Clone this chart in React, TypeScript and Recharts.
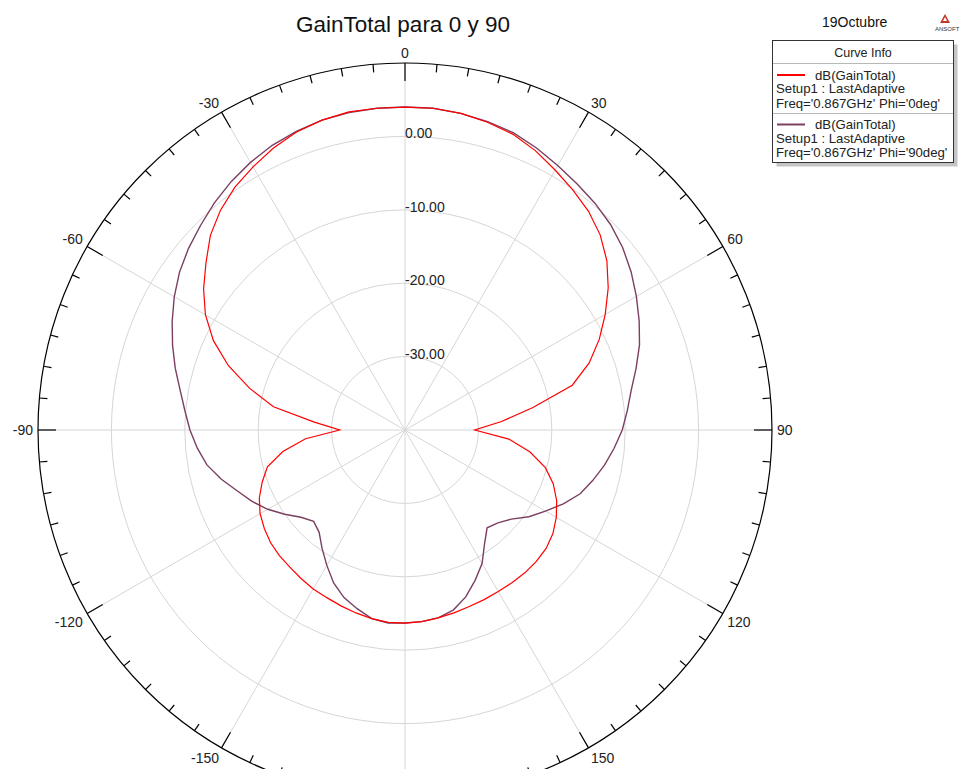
import { RadarChart, Radar, PolarGrid, PolarAngleAxis, PolarRadiusAxis } from "recharts"

// angle in degrees, clockwise from the top (0 = boresight)
const angles = [
  0, 5, 10, 15, 20, 25, 30, 35, 40, 45, 50, 55, 60, 65, 70, 75, 80, 85,
  90, 95, 100, 105, 110, 115, 120, 125, 130, 135, 140, 145, 150, 155, 160, 165, 170, 175,
  180, 185, 190, 195, 200, 205, 210, 215, 220, 225, 230, 235, 240, 245, 250, 255, 260, 265,
  270, 275, 280, 285, 290, 295, 300, 305, 310, 315, 320, 325, 330, 335, 340, 345, 350, 355,
]

// dB(GainTotal), Phi = 0deg
const gainPhi0 = [
  4.0, 4.0, 3.8, 3.4, 2.9, 2.0, 0.9, -0.1, -1.1, -2.4, -4.1, -6.2, -8.5, -10.8, -13.3, -16.4, -22.3, -26.8,
  -30.5, -25.8, -22.7, -20.2, -18.5, -17.2, -16.2, -15.4, -14.9, -14.7, -14.6, -14.6, -14.6, -14.5, -14.4, -14.2, -14.0, -13.8,
  -13.7, -13.7, -13.9, -14.2, -14.5, -14.8, -15.0, -15.3, -15.6, -15.8, -16.1, -16.6, -17.2, -18.1, -19.3, -20.6, -23.1, -26.4,
  -31.1, -27.6, -21.8, -18.1, -14.4, -11.2, -8.6, -6.5, -4.6, -2.5, -0.9, 0.4, 1.4, 2.4, 3.2, 3.7, 4.0, 4.0,
]

// dB(GainTotal), Phi = 90deg
const gainPhi90 = [
  4.0, 4.0, 3.8, 3.5, 3.1, 2.4, 1.6, 0.9, 0.3, -0.4, -1.3, -2.4, -3.6, -4.8, -6.0, -7.4, -8.7, -9.6,
  -10.4, -11.4, -12.4, -13.5, -14.6, -16.2, -17.9, -19.4, -21.1, -22.1, -22.6, -21.1, -19.0, -17.4, -15.8, -14.6, -14.0, -13.8,
  -13.7, -13.6, -13.9, -14.8, -15.7, -17.0, -18.7, -20.3, -21.8, -22.4, -21.5, -20.0, -18.4, -17.0, -15.7, -14.1, -12.6, -11.6,
  -10.7, -9.9, -8.9, -7.6, -6.3, -5.0, -3.7, -2.5, -1.5, -0.6, 0.4, 1.3, 2.1, 2.8, 3.3, 3.7, 3.9, 4.0,
]

const radiusDomain = [-40, 10]
const radiusTicks = [-30, -20, -10, 0]
const spokeAngles = [0, 30, 60, 90, 120, 150, 180, 210, 240, 270, 300, 330]

const CX = 405
const CY = 430
const R = 367
const FONT = "Arial, 'Liberation Sans', sans-serif"

const data = angles.map((a, i) => ({ angle: a, phi0: gainPhi0[i], phi90: gainPhi90[i] }))

const gridRadii = radiusTicks.map(
  (v) => ((v - radiusDomain[0]) / (radiusDomain[1] - radiusDomain[0])) * R
)

function AngleTick(props: any) {
  const { payload } = props
  const value = Number(payload.value)
  const rad = (payload.coordinate * Math.PI) / 180
  const cos = Math.cos(rad)
  const sin = Math.sin(rad)
  const major = value % 30 === 0
  const len = major ? 18 : 8
  const x1 = CX + R * cos
  const y1 = CY - R * sin
  const x2 = CX + (R - len) * cos
  const y2 = CY - (R - len) * sin
  let label = null
  // the 180 label falls below the visible area, so it is left out
  if (major && value !== 180) {
    const lx = CX + (R + 5) * cos
    const ly = CY - (R + 5) * sin
    const anchor = cos > 0.01 ? "start" : cos < -0.01 ? "end" : "middle"
    const dy = sin > 0.01 ? "0" : sin < -0.01 ? "0.8em" : "0.35em"
    label = (
      <text x={lx} y={ly} dy={dy} textAnchor={anchor} fontSize={14} fill="#222" fontFamily={FONT}>
        {value > 180 ? value - 360 : value}
      </text>
    )
  }
  return (
    <g>
      <line x1={x1} y1={y1} x2={x2} y2={y2} stroke="#000" strokeWidth={1.2} />
      {label}
    </g>
  )
}

function RadiusTick(props: any) {
  const { x, y, payload } = props
  return (
    <text x={x} y={y} dy="0.14em" textAnchor="start" fontSize={14} fill="#222" fontFamily={FONT}>
      {Number(payload.value).toFixed(2)}
    </text>
  )
}

export default function App() {
  return (
    <div style={{ position: "absolute", left: 0, top: 0, width: 960, height: 769, background: "#fff", overflow: "hidden" }}>
      <RadarChart
        width={960}
        height={769}
        data={data}
        cx={CX}
        cy={CY}
        outerRadius={R}
        startAngle={90}
        endAngle={-270}
        margin={{ top: 0, right: 0, bottom: 0, left: 0 }}
      >
        <PolarGrid
          gridType="circle"
          polarAngles={spokeAngles}
          polarRadius={gridRadii}
          stroke="#d6d6d6"
          strokeWidth={1}
        />
        <PolarAngleAxis
          dataKey="angle"
          axisLineType="circle"
          axisLine={{ stroke: "#000", strokeWidth: 1.2 }}
          tickLine={false}
          tick={AngleTick}
        />
        <PolarRadiusAxis
          angle={90}
          type="number"
          domain={radiusDomain}
          ticks={radiusTicks}
          axisLine={false}
          tickLine={false}
          tick={RadiusTick}
        />
        <Radar
          dataKey="phi90"
          stroke="#7b3f61"
          strokeWidth={1.4}
          fill="none"
          fillOpacity={0}
          dot={false}
          isAnimationActive={false}
        />
        <Radar
          dataKey="phi0"
          stroke="#ff0000"
          strokeWidth={1.2}
          fill="none"
          fillOpacity={0}
          dot={false}
          isAnimationActive={false}
        />
      </RadarChart>

      <svg width={960} height={769} style={{ position: "absolute", left: 0, top: 0, pointerEvents: "none" }}>
        <text x={403} y={32} textAnchor="middle" fontSize={22.5} fill="#111" fontFamily={FONT}>
          GainTotal para 0 y 90
        </text>
        <text x={822} y={27} fontSize={14} fill="#111" fontFamily={FONT}>
          19Octubre
        </text>
        <polygon points="945,14 940,23 950,23" fill="#c0392b" />
        <polygon points="945,17 943,21 947,21" fill="#fff" />
        <text x={935} y={31} fontSize={6} fill="#333" fontFamily={FONT}>ANSOFT</text>

        {/* Curve Info box */}
        <rect x={776.5} y={44.5} width={181} height={122} fill="#c4c4c4" />
        <rect x={772.5} y={40.5} width={181} height={122} fill="#fff" stroke="#333" />
        <text x={863} y={57} textAnchor="middle" fontSize={12.5} fill="#222" fontFamily={FONT}>
          Curve Info
        </text>
        <line x1={773} y1={63.5} x2={953} y2={63.5} stroke="#b8b8b8" />
        <line x1={777} y1={75} x2={805} y2={75} stroke="#ff0000" strokeWidth={2} />
        <text x={815} y={79.5} fontSize={13.2} fill="#222" fontFamily={FONT}>dB(GainTotal)</text>
        <text x={776} y={93} fontSize={13.2} fill="#222" fontFamily={FONT}>Setup1 : LastAdaptive</text>
        <text x={776} y={108} fontSize={13.2} fill="#222" fontFamily={FONT}>Freq='0.867GHz' Phi='0deg'</text>
        <line x1={773} y1={113.5} x2={953} y2={113.5} stroke="#b8b8b8" />
        <line x1={777} y1={124.5} x2={805} y2={124.5} stroke="#7b3f61" strokeWidth={2} />
        <text x={815} y={129} fontSize={13.2} fill="#222" fontFamily={FONT}>dB(GainTotal)</text>
        <text x={776} y={143} fontSize={13.2} fill="#222" fontFamily={FONT}>Setup1 : LastAdaptive</text>
        <text x={776} y={157} fontSize={13.2} fill="#222" fontFamily={FONT}>Freq='0.867GHz' Phi='90deg'</text>
      </svg>
    </div>
  )
}
